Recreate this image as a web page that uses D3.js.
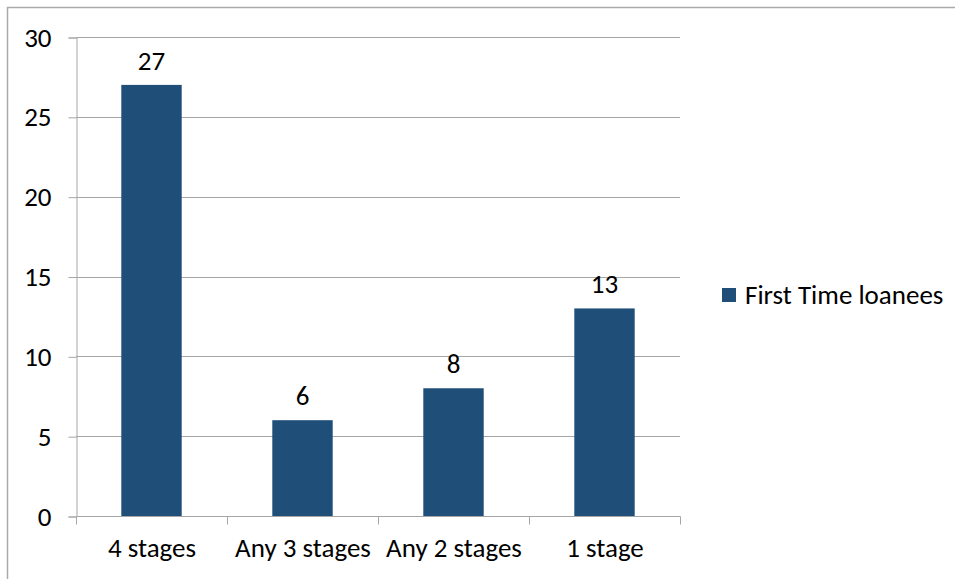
<!DOCTYPE html>
<html>
<head>
<meta charset="utf-8">
<script src="https://cdn.jsdelivr.net/npm/d3@7"></script>
<style>
  body{margin:0;background:#fff}
  text{font-family:Carlito,"Open Sans","Liberation Sans",sans-serif;fill:#000}
</style>
</head>
<body>
<div id="chart"></div>
<script>
var categories = ['4 stages','Any 3 stages','Any 2 stages','1 stage']
var values = [27,6,8,13]
var yTicks = [0,5,10,15,20,25,30]
var seriesName = 'First Time loanees'

var width = 955, height = 579
var m = {left:76, right:275, top:37, bottom:63}
var color = '#1f4e79'
var fs = '27px'

var svg = d3.select('#chart').append('svg')
    .attr('width',width)
    .attr('height',height)

// outer frame (only left and top visible)
svg.append('path')
  .attr('d','M7.5,579V7.5H955')
  .attr('fill','none')
  .attr('stroke','#aaa')
  .attr('stroke-width',1.5)

var x = d3.scaleBand().domain(categories)
    .range([m.left,width-m.right]).paddingInner(0.6).paddingOuter(0.3)
var y = d3.scaleLinear().domain([0,30]).range([height-m.bottom,m.top])

var g = svg.append('g')

// gridlines
g.selectAll('.grid').data(yTicks.filter(d=>d>0)).enter().append('line')
  .attr('x1',m.left).attr('x2',width-m.right)
  .attr('y1',d=>Math.round(y(d))+0.5).attr('y2',d=>Math.round(y(d))+0.5)
  .attr('stroke','#a6a6a6')

// y axis
var yAxis = g.append('g').attr('transform',`translate(${m.left+0.5},0.5)`)
  .call(d3.axisLeft(y).tickValues(yTicks).tickSize(8).tickPadding(17))
yAxis.select('.domain').attr('stroke','#a6a6a6')
yAxis.selectAll('line').attr('stroke','#a6a6a6')
yAxis.selectAll('text').style('font-size',fs).attr('fill','#000')

// x axis
var xAxis = g.append('g').attr('transform',`translate(0.5,${height-m.bottom+0.5})`)
  .call(d3.axisBottom(x).tickSize(0).tickPadding(21))
xAxis.select('.domain').attr('stroke','#a6a6a6').attr('d',`M${m.left},0H${width-m.right}`)
xAxis.selectAll('text').style('font-size',fs).attr('fill','#000')
var edges = categories.map(c=>x(c)-x.step()*x.paddingInner()/2).concat([width-m.right])
xAxis.selectAll('.edge').data(edges).enter().append('line')
  .attr('x1',d=>Math.round(d)).attr('x2',d=>Math.round(d))
  .attr('y1',0).attr('y2',8).attr('stroke','#a6a6a6')

// bars
g.selectAll('.bar').data(values).enter().append('rect')
  .attr('x',(d,i)=>x(categories[i]))
  .attr('y',d=>y(d))
  .attr('width',x.bandwidth())
  .attr('height',d=>y(0)-y(d))
  .attr('fill',color)

// value labels
g.selectAll('.lbl').data(values).enter().append('text')
  .attr('x',(d,i)=>x(categories[i])+x.bandwidth()/2)
  .attr('y',d=>y(d)-15)
  .attr('text-anchor','middle')
  .style('font-size',fs)
  .text(d=>d)

// legend
var lg = svg.append('g').attr('transform','translate(722,288)')
lg.append('rect').attr('width',14).attr('height',14).attr('fill',color)
lg.append('text').attr('x',23).attr('y',16).style('font-size',fs).text(seriesName)
</script>
</body>
</html>
